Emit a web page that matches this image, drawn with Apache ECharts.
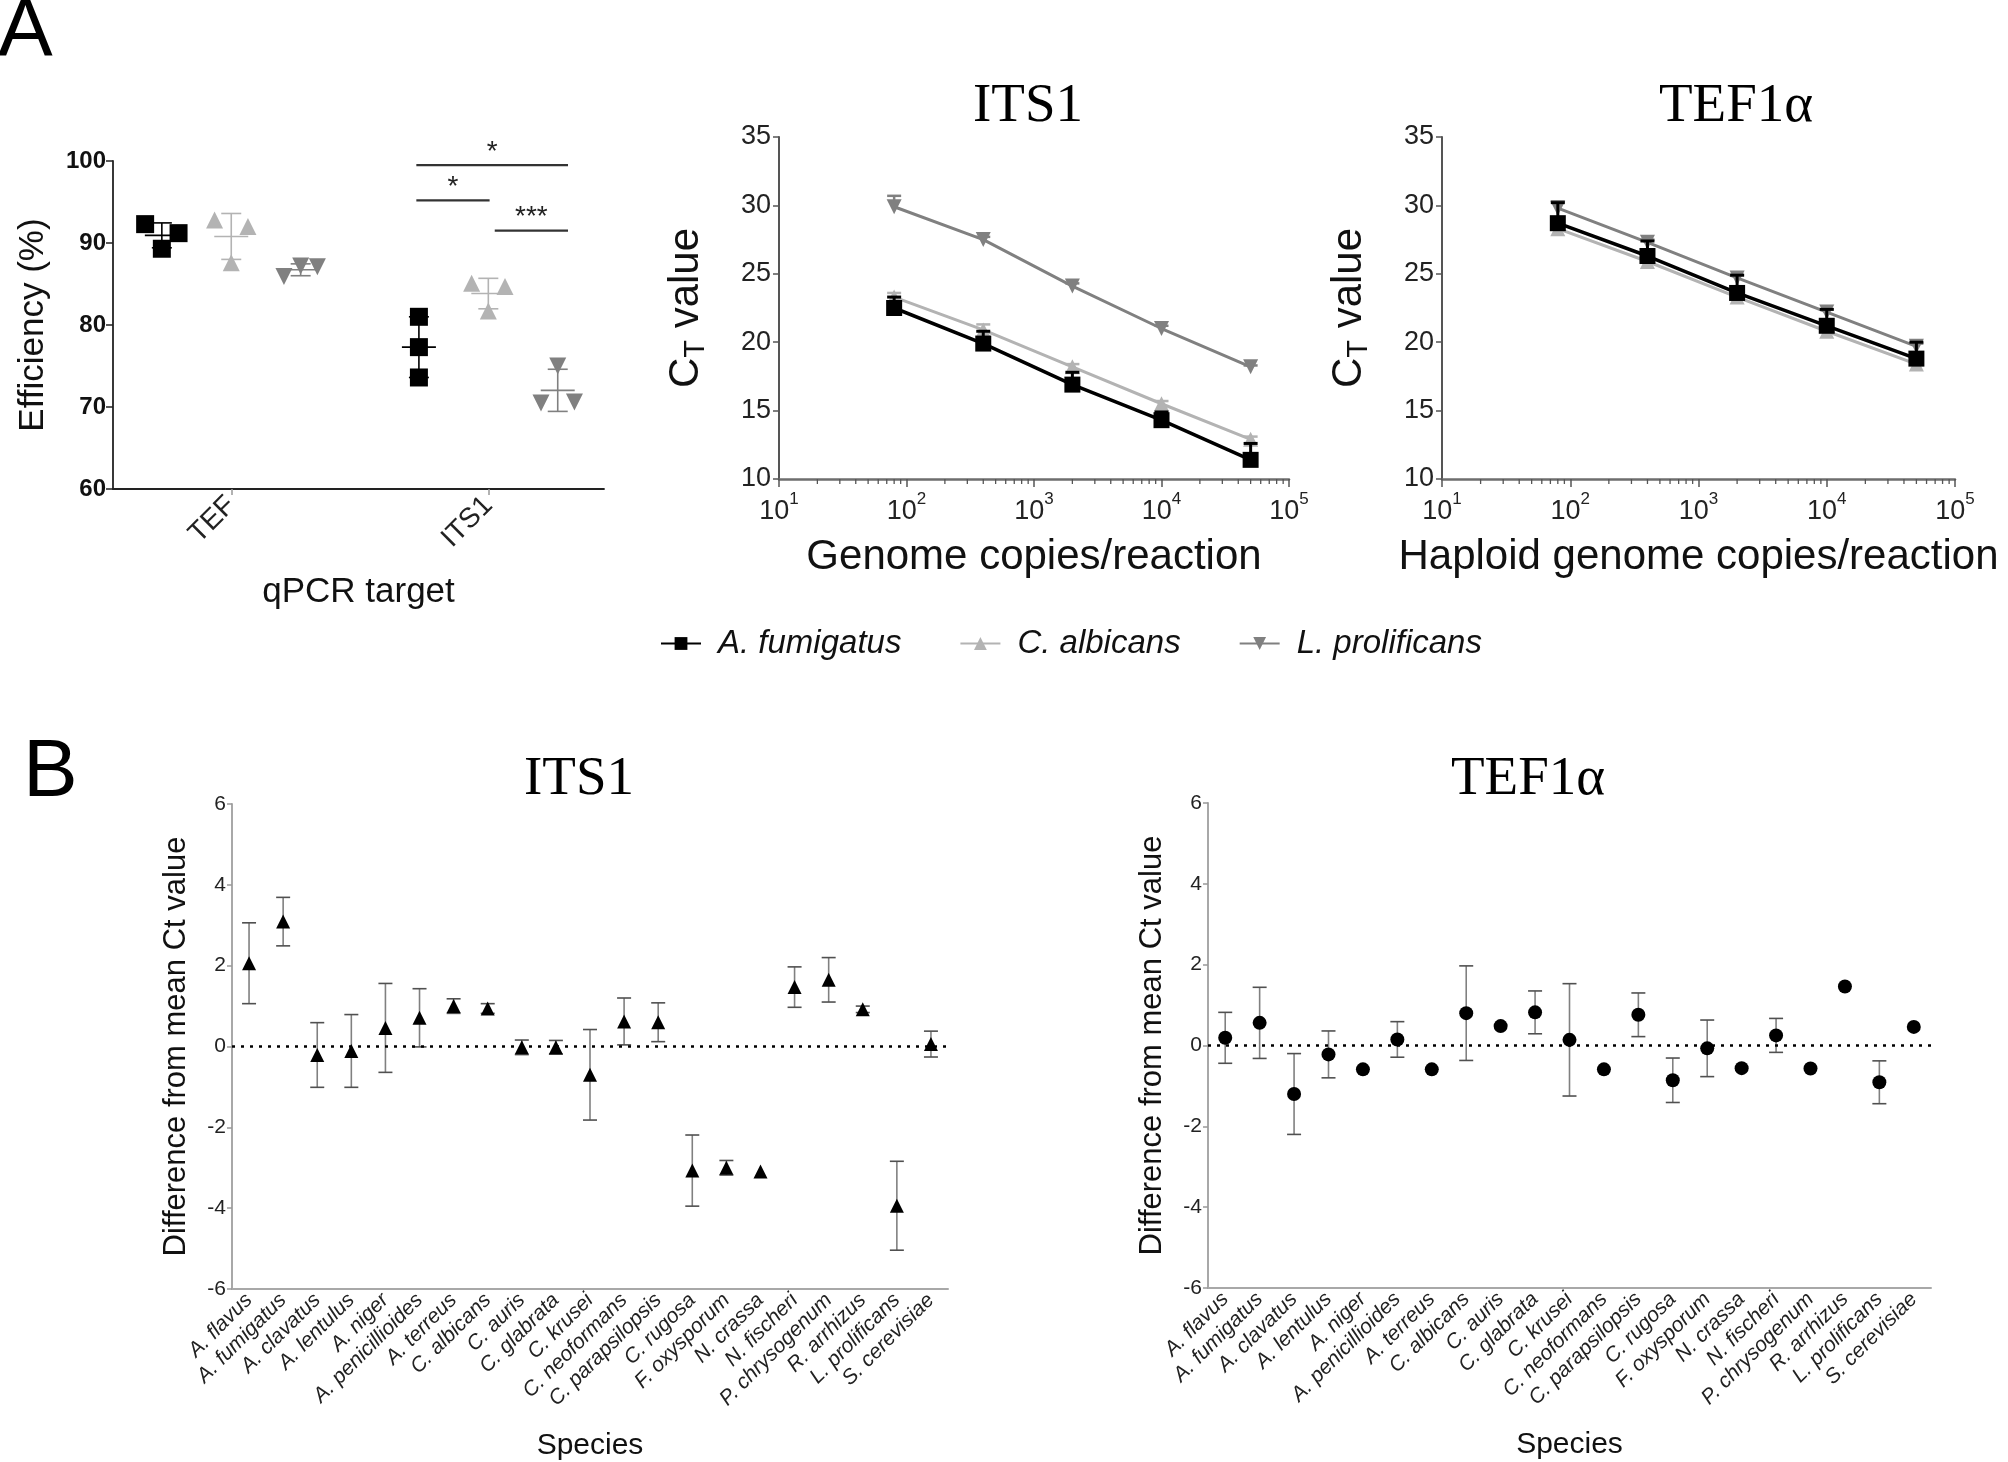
<!DOCTYPE html>
<html>
<head>
<meta charset="utf-8">
<script src="https://cdn.jsdelivr.net/npm/echarts@6/dist/echarts.min.js"></script>
<style>
html, body { margin: 0; padding: 0; background: #fff; }
#main { width: 2008px; height: 1462px; }
</style>
</head>
<body>
<div id="main"></div>
<script>
// ---- panel A, left: qPCR efficiency (%), three replicates per species and target
var targets = ['TEF', 'ITS1'];
var species = ['A. fumigatus', 'C. albicans', 'L. prolificans'];
var effFumigatus = [[92.3, 89.3, 91.2], [81.0, 77.3, 73.6]];
var effAlbicans = [[92.8, 87.6, 92.0], [85.1, 81.7, 84.7]];
var effProlificans = [[85.9, 87.2, 87.1], [70.5, 75.0, 70.6]];
// significance bars inside the ITS1 group: [from species, to species, height, label]
var sigBars = [[0, 2, 99.5, '*'], [0, 1, 95.2, '*'], [1, 2, 91.5, '***']];

// ---- panel A, standard curves: mean CT and SD per dilution
var copies = [80, 400, 2000, 10000, 50000];
var its1Fumigatus = [22.5, 19.9, 16.9, 14.3, 11.4];
var its1FumigatusSd = [0.8, 0.9, 0.9, 0.6, 1.2];
var its1Albicans = [23.3, 20.9, 18.2, 15.5, 12.9];
var its1AlbicansSd = [0.3, 0.4, 0.2, 0.2, 0.2];
var its1Prolificans = [29.9, 27.5, 24.1, 21.0, 18.2];
var its1ProlificansSd = [0.8, 0.2, 0.2, 0.2, 0.1];
var tefFumigatus = [28.7, 26.3, 23.6, 21.2, 18.8];
var tefFumigatusSd = [1.5, 1.1, 1.3, 1.2, 1.2];
var tefAlbicans = [28.3, 25.9, 23.3, 20.8, 18.4];
var tefAlbicansSd = [0.3, 0.3, 0.3, 0.3, 0.3];
var tefProlificans = [29.8, 27.3, 24.7, 22.2, 19.7];
var tefProlificansSd = [0.5, 0.2, 0.2, 0.2, 0.2];

// ---- panel B: difference from mean Ct value
var panelSpecies = ['A. flavus', 'A. fumigatus', 'A. clavatus', 'A. lentulus', 'A. niger',
  'A. penicillioides', 'A. terreus', 'C. albicans', 'C. auris', 'C. glabrata', 'C. krusei',
  'C. neoformans', 'C. parapsilopsis', 'C. rugosa', 'F. oxysporum', 'N. crassa', 'N. fischeri',
  'P. chrysogenum', 'R. arrhizus', 'L. prolificans', 'S. cerevisiae'];
var itsDiff = [2.06, 3.09, -0.21, -0.11, 0.46, 0.71, 1.0, 0.94, -0.02, -0.02, -0.70,
  0.62, 0.60, -3.07, -3.0, -3.09, 1.47, 1.65, 0.92, -3.94, 0.06];
var itsSd = [1.0, 0.6, 0.8, 0.9, 1.1, 0.72, 0.18, 0.12, 0.18, 0.17, 1.12,
  0.58, 0.48, 0.88, 0.18, 0, 0.5, 0.55, 0.08, 1.1, 0.32];
var tefDiff = [0.19, 0.56, -1.20, -0.22, -0.59, 0.15, -0.59, 0.80, 0.48, 0.82, 0.14,
  -0.59, 0.76, -0.86, -0.07, -0.56, 0.25, -0.57, 1.46, -0.91, 0.46];
var tefSd = [0.63, 0.88, 1.0, 0.58, 0, 0.44, 0, 1.17, 0, 0.53, 1.39,
  0, 0.54, 0.55, 0.70, 0, 0.42, 0, 0, 0.53, 0];

var SANS = 'Liberation Sans, Arial, sans-serif';
var NARROW = 'Liberation Sans Narrow, Arial Narrow, Liberation Sans, sans-serif';
var SERIF = 'Liberation Serif, Times New Roman, serif';

var colors = ['#000000', '#b3b3b3', '#808080'];
var symbols = ['rect', 'triangle', 'triangle'];
var rotates = [0, 0, 180];
var symSizes = [16, 15, 15];

// layout of the dot plot: group offset per species, replicate spread
var groupOffset = [-0.27, 0, 0.27];
var spread = [[[-1, 0, 1], [0, 0, 0]], [[-1, 0, 1], [-1, 0, 1]], [[-1, 0, 1], [-1, 0, 1]]];
var effData = [effFumigatus, effAlbicans, effProlificans];

// log-axis minor tick positions (2..9 in every decade)
var minorTicks = [];
[10, 100, 1000, 10000].forEach(function (d) {
  for (var m = 2; m <= 9; m++) minorTicks.push([d * m, 10]);
});

function mean(a) { return a.reduce(function (s, v) { return s + v; }, 0) / a.length; }
function sd(a) {
  var m = mean(a);
  return Math.sqrt(a.reduce(function (s, v) { return s + (v - m) * (v - m); }, 0) / (a.length - 1));
}
function seg(x1, y1, x2, y2, color, w) {
  return { type: 'line', shape: { x1: x1, y1: y1, x2: x2, y2: y2 }, style: { stroke: color, lineWidth: w } };
}

// mean line with SD whiskers (panel A left)
function meanSdItem(color) {
  return function (params, api) {
    var x = api.value(0), m = api.value(1), s = api.value(2);
    var c = api.coord([x, m]);
    var t = api.coord([x, m + s]);
    var b = api.coord([x, m - s]);
    return { type: 'group', children: [
      seg(c[0] - 17, c[1], c[0] + 17, c[1], color, 1.6),
      seg(t[0], t[1], b[0], b[1], color, 1.6),
      seg(t[0] - 10, t[1], t[0] + 10, t[1], color, 1.6),
      seg(b[0] - 10, b[1], b[0] + 10, b[1], color, 1.6)
    ] };
  };
}
// upward error bar only (standard curves)
function upErrItem(color, w) {
  return function (params, api) {
    var x = api.value(0), y = api.value(1), s = api.value(2);
    var p = api.coord([x, y]), t = api.coord([x, y + s]);
    return { type: 'group', children: [
      seg(p[0], p[1], t[0], t[1], color, w),
      seg(t[0] - 7, t[1], t[0] + 7, t[1], color, w)
    ] };
  };
}
// symmetric error bar (panel B)
function errItem(params, api) {
  var x = api.value(0), y = api.value(1), s = api.value(2);
  if (!s) return null;
  var t = api.coord([x, y + s]), b = api.coord([x, y - s]);
  return { type: 'group', children: [
    seg(t[0], t[1], b[0], b[1], '#808080', 1.6),
    seg(t[0] - 7, t[1], t[0] + 7, t[1], '#505050', 1.6),
    seg(b[0] - 7, b[1], b[0] + 7, b[1], '#505050', 1.6)
  ] };
}
function minorTickItem(params, api) {
  var p = api.coord([api.value(0), api.value(1)]);
  return seg(p[0], p[1], p[0], p[1] + 5, '#555', 1.3);
}

var series = [];

// standard curve series; ITS1 first so the legend takes its icons from them
function addCurves(ax, vals, sds) {
  for (var s = 2; s >= 0; s--) {
    series.push({
      name: species[s], type: 'line', xAxisIndex: ax, yAxisIndex: ax,
      data: copies.map(function (c, i) { return [c, vals[s][i]]; }),
      symbol: symbols[s], symbolRotate: rotates[s], symbolSize: symSizes[s],
      showSymbol: true, z: 5 - s,
      itemStyle: { color: colors[s], opacity: 1 },
      lineStyle: { color: colors[s], width: s === 0 ? 3.5 : 3 }
    });
    series.push({
      type: 'custom', xAxisIndex: ax, yAxisIndex: ax, z: 5 - s,
      encode: { x: 0, y: 1 },
      data: copies.map(function (c, i) { return [c, vals[s][i], sds[s][i]]; }),
      renderItem: upErrItem(colors[s], s === 0 ? 3 : 2.5)
    });
  }
  series.push({
    type: 'custom', xAxisIndex: ax, yAxisIndex: ax, silent: true, clip: false,
    encode: { x: 0, y: 1 }, data: minorTicks, renderItem: minorTickItem
  });
}
addCurves(1, [its1Fumigatus, its1Albicans, its1Prolificans], [its1FumigatusSd, its1AlbicansSd, its1ProlificansSd]);
addCurves(2, [tefFumigatus, tefAlbicans, tefProlificans], [tefFumigatusSd, tefAlbicansSd, tefProlificansSd]);

// dot plot of efficiencies
species.forEach(function (name, s) {
  var pts = [], stats = [];
  targets.forEach(function (t, ti) {
    effData[s][ti].forEach(function (v, k) {
      pts.push([ti + groupOffset[s] + spread[s][ti][k] * 0.065, v]);
    });
    stats.push([ti + groupOffset[s], mean(effData[s][ti]), sd(effData[s][ti])]);
  });
  series.push({
    name: name, type: 'scatter', xAxisIndex: 0, yAxisIndex: 0, data: pts,
    symbol: symbols[s], symbolRotate: rotates[s], symbolSize: symSizes[s] + 2,
    itemStyle: { color: colors[s], opacity: 1 }
  });
  series.push({
    type: 'custom', xAxisIndex: 0, yAxisIndex: 0, data: stats, z: 3,
    encode: { x: 0, y: 1 }, renderItem: meanSdItem(colors[s])
  });
});
series.push({
  type: 'custom', xAxisIndex: 0, yAxisIndex: 0, encode: { x: 0, y: 2 },
  data: sigBars.map(function (b) {
    var x1 = 1 + groupOffset[b[0]] + (b[0] === 1 ? 0.025 : -0.01);
    var x2 = 1 + groupOffset[b[1]] + (b[1] === 1 ? 0.005 : 0.04);
    return [x1, x2, b[2]];
  }),
  renderItem: function (params, api) {
    var a = api.coord([api.value(0), api.value(2)]);
    var b = api.coord([api.value(1), api.value(2)]);
    return { type: 'group', children: [
      seg(a[0], a[1], b[0], b[1], '#333', 2.2),
      { type: 'text', x: (a[0] + b[0]) / 2, y: a[1] - 13,
        style: { text: sigBars[params.dataIndex][3], font: '28px ' + SANS, fill: '#222',
                 align: 'center', verticalAlign: 'middle' } }
    ] };
  }
});

// panel B
function addDiff(ax, vals, sds, sym, size) {
  series.push({
    type: 'scatter', xAxisIndex: ax, yAxisIndex: ax, data: vals, z: 4,
    symbol: sym, symbolSize: size, itemStyle: { color: '#000', opacity: 1 },
    markLine: {
      silent: true, symbol: 'none', label: { show: false },
      lineStyle: { type: [3, 6], color: '#000', width: 2.5 },
      data: [{ yAxis: 0 }]
    }
  });
  series.push({
    type: 'custom', xAxisIndex: ax, yAxisIndex: ax, z: 3, encode: { x: 0, y: 1 },
    data: vals.map(function (v, i) { return [i, v, sds[i]]; }),
    renderItem: errItem
  });
}
addDiff(3, itsDiff, itsSd, 'triangle', 14);
addDiff(4, tefDiff, tefSd, 'circle', 14);

function logLabel(v) {
  return '{b|10}{s|' + Math.round(Math.log(v) / Math.LN10) + '}';
}
var logRich = {
  b: { fontSize: 27, fontFamily: NARROW, color: '#222', lineHeight: 34, verticalAlign: 'bottom' },
  s: { fontSize: 17, fontFamily: NARROW, color: '#222', lineHeight: 17, verticalAlign: 'top' }
};
var ctRich = {
  c: { fontSize: 42, fontFamily: SANS, color: '#111', lineHeight: 42, verticalAlign: 'top' },
  t: { fontSize: 29, fontFamily: SANS, color: '#111', lineHeight: 62 }
};

function curveX(grid, name) {
  return {
    type: 'log', logBase: 10, gridIndex: grid, min: 10, max: 100000,
    name: name, nameLocation: 'middle', nameGap: 57,
    nameTextStyle: { fontSize: 42, fontFamily: SANS, color: '#111' },
    axisLine: { onZero: false, lineStyle: { color: '#6e6e6e', width: 2.5 } },
    axisTick: { show: true, inside: false, length: 8, lineStyle: { color: '#555', width: 1.5 } },
    axisLabel: { formatter: logLabel, rich: logRich, margin: 12 },
    splitLine: { show: false }
  };
}
function curveY(grid) {
  return {
    type: 'value', gridIndex: grid, min: 10, max: 35, interval: 5,
    name: '{c|C}{t|T}{c| value}', nameLocation: 'middle', nameGap: 52, nameRotate: 90,
    nameTextStyle: { rich: ctRich },
    axisLine: { show: true, onZero: false, lineStyle: { color: '#555', width: 2 } },
    axisTick: { show: true, length: 6, lineStyle: { color: '#555', width: 1.5 } },
    axisLabel: { fontSize: 27, fontFamily: NARROW, color: '#222', margin: 8 },
    splitLine: { show: false }
  };
}
function diffX(grid) {
  return {
    type: 'category', gridIndex: grid, data: panelSpecies, boundaryGap: true,
    name: 'Species', nameLocation: 'middle', nameGap: 142,
    nameTextStyle: { fontSize: 30, fontFamily: SANS, color: '#111' },
    axisLine: { onZero: false, lineStyle: { color: '#a8a8a8', width: 2 } },
    axisTick: { alignWithLabel: true, length: 6, lineStyle: { color: '#888', width: 1.5 } },
    axisLabel: { interval: 0, rotate: 45, fontSize: 21, fontStyle: 'italic', fontFamily: SANS,
                 color: '#222', margin: 8 },
    splitLine: { show: false }
  };
}
function diffY(grid) {
  return {
    type: 'value', gridIndex: grid, min: -6, max: 6, interval: 2,
    name: 'Difference from mean Ct value', nameLocation: 'middle', nameGap: 40, nameRotate: 90,
    nameTextStyle: { fontSize: 31, fontFamily: SANS, color: '#111' },
    axisLine: { show: true, onZero: false, lineStyle: { color: '#a8a8a8', width: 2 } },
    axisTick: { show: true, length: 5, lineStyle: { color: '#999', width: 1.5 } },
    axisLabel: { fontSize: 21, fontFamily: SANS, color: '#222', margin: 6 },
    splitLine: { show: false }
  };
}

var option = {
  backgroundColor: '#fff',
  animation: false,
  textStyle: { fontFamily: SANS },
  grid: [
    { left: 113, top: 161, width: 491, height: 328, outerBoundsMode: 'none' },
    { left: 779, top: 137, width: 510, height: 342, outerBoundsMode: 'none' },
    { left: 1442, top: 137, width: 513, height: 342, outerBoundsMode: 'none' },
    { left: 232, top: 804, width: 716, height: 485, outerBoundsMode: 'none' },
    { left: 1208, top: 803, width: 723, height: 485, outerBoundsMode: 'none' }
  ],
  legend: {
    data: species, left: 655, top: 622, itemWidth: 40, itemHeight: 16, itemGap: 58,
    selectedMode: false,
    textStyle: { fontSize: 33, fontStyle: 'italic', fontFamily: SANS, color: '#111',
                 padding: [0, 0, 0, 12] }
  },
  xAxis: [
    {
      type: 'value', gridIndex: 0, min: -0.46, max: 1.45,
      name: 'qPCR target', nameLocation: 'middle', nameGap: 86,
      nameTextStyle: { fontSize: 35, fontFamily: SANS, color: '#111' },
      axisLine: { onZero: false, lineStyle: { color: '#222', width: 1.8 } },
      axisTick: { customValues: [0, 1], length: 6, lineStyle: { color: '#999', width: 1.5 } },
      axisLabel: { customValues: [0, 1], rotate: 45, fontSize: 28, fontFamily: SANS, color: '#222',
                   margin: 12, formatter: function (v) { return targets[Math.round(v)]; } },
      splitLine: { show: false }
    },
    curveX(1, 'Genome copies/reaction'),
    curveX(2, 'Haploid genome copies/reaction'),
    diffX(3),
    diffX(4)
  ],
  yAxis: [
    {
      type: 'value', gridIndex: 0, min: 60, max: 100, interval: 10,
      name: 'Efficiency (%)', nameLocation: 'middle', nameGap: 62, nameRotate: 90,
      nameTextStyle: { fontSize: 35, fontFamily: SANS, color: '#111' },
      axisLine: { show: true, onZero: false, lineStyle: { color: '#222', width: 1.8 } },
      axisTick: { show: true, length: 7, lineStyle: { color: '#222', width: 1.5 } },
      axisLabel: { fontSize: 24, fontWeight: 'bold', fontFamily: SANS, color: '#111', margin: 7 },
      splitLine: { show: false }
    },
    curveY(1),
    curveY(2),
    diffY(3),
    diffY(4)
  ],
  graphic: [
    { type: 'text', x: -2, y: 32, style: { text: 'A', font: '82px ' + SANS, fill: '#000', align: 'left', verticalAlign: 'middle' } },
    { type: 'text', x: 23, y: 773, style: { text: 'B', font: '82px ' + SANS, fill: '#000', align: 'left', verticalAlign: 'middle' } },
    { type: 'text', x: 1028, y: 107, style: { text: 'ITS1', font: '55px ' + SERIF, fill: '#000', align: 'center', verticalAlign: 'middle' } },
    { type: 'text', x: 1736, y: 107, style: { text: 'TEF1α', font: '55px ' + SERIF, fill: '#000', align: 'center', verticalAlign: 'middle' } },
    { type: 'text', x: 579, y: 780, style: { text: 'ITS1', font: '55px ' + SERIF, fill: '#000', align: 'center', verticalAlign: 'middle' } },
    { type: 'text', x: 1528, y: 780, style: { text: 'TEF1α', font: '55px ' + SERIF, fill: '#000', align: 'center', verticalAlign: 'middle' } }
  ],
  series: series
};

var chart = echarts.init(document.getElementById('main'), null, { renderer: 'canvas' });
chart.setOption(option, true);
</script>
</body>
</html>
